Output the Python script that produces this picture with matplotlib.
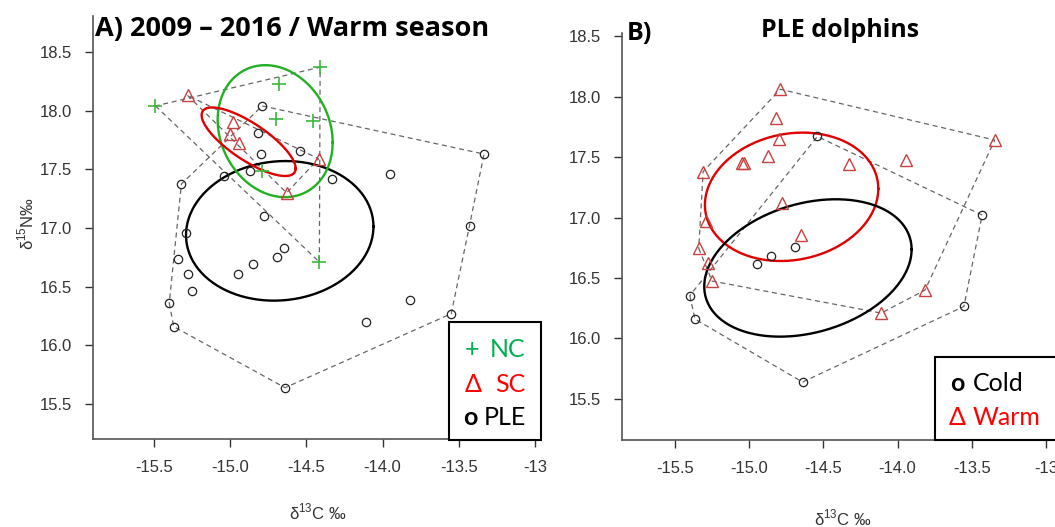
import numpy as np
import matplotlib
matplotlib.use("Agg")
import matplotlib.pyplot as plt
from matplotlib.patches import Rectangle

plt.rcParams['font.family'] = ['Liberation Sans', 'DejaVu Sans']
plt.rcParams['mathtext.fontset'] = 'custom'
plt.rcParams['mathtext.rm'] = 'Liberation Sans'

W, H = 1055, 527

# ---- Panel A: 2009-2016 / warm season ----
nc_x = [-15.49, -14.41, -14.68, -14.70, -14.46, -14.79, -14.415]
nc_y = [18.04, 18.37, 18.23, 17.93, 17.91, 17.49, 16.71]

sc_x = [-15.28, -14.98, -15.00, -14.94, -14.42, -14.63]
sc_y = [18.13, 17.905, 17.80, 17.72, 17.59, 17.30]

ple_x = [-14.79, -14.82, -14.80, -14.54, -13.335, -13.95, -14.33, -14.87, -15.04,
         -15.32, -14.78, -15.29, -13.43, -15.34, -14.645, -14.69, -14.85, -14.95,
         -15.28, -15.25, -15.40, -15.37, -14.64, -13.55, -13.82, -14.11]
ple_y = [18.04, 17.81, 17.63, 17.66, 17.63, 17.46, 17.42, 17.49, 17.44,
         17.375, 17.10, 16.96, 17.02, 16.74, 16.83, 16.75, 16.69, 16.61,
         16.61, 16.46, 16.36, 16.16, 15.64, 16.27, 16.39, 16.20]

# standard ellipses: centre (x, y) and covariance (sxx, syy, sxy)
nc_ell = [(-14.705, 17.825), (0.1423, 0.316, -0.0363)]
sc_ell = [(-14.879, 17.735), (0.0951, 0.0853, -0.0699)]
ple_ell = [(-14.675, 16.976), (0.378, 0.3535, 0.0224)]

# ---- Panel B: PLE dolphins ----
warm_x = [-14.79, -14.82, -14.80, -14.87, -15.035, -15.05, -14.325, -13.94, -13.345,
          -15.31, -14.78, -15.29, -14.65, -15.34, -15.28, -15.25, -14.11, -13.815]
warm_y = [18.06, 17.82, 17.65, 17.51, 17.45, 17.45, 17.44, 17.475, 17.64,
          17.38, 17.12, 16.97, 16.855, 16.745, 16.62, 16.475, 16.21, 16.40]

cold_x = [-14.54, -13.43, -14.69, -14.85, -14.945, -15.40, -15.365, -14.64, -13.553]
cold_y = [17.67, 17.02, 16.76, 16.68, 16.615, 16.355, 16.16, 15.64, 16.265]

warm_ell = [(-14.714, 17.171), (0.3413, 0.2815, 0.039)]
cold_ell = [(-14.604, 16.583), (0.4883, 0.3224, 0.1069)]

xticks = [-15.5, -15.0, -14.5, -14.0, -13.5, -13.0]
xticklabels = ['-15.5', '-15.0', '-14.5', '-14.0', '-13.5', '-13']
yticks = [15.5, 16.0, 16.5, 17.0, 17.5, 18.0, 18.5]
yticklabels = ['15.5', '16.0', '16.5', '17.0', '17.5', '18.0', '18.5']

GREEN_PT = '#3cb83c'
GREEN_EL = '#22b022'
RED_PT = '#c84040'
RED_EL = '#e00000'
HULL = dict(linestyle=(0, (4, 3)), linewidth=0.9, color='#666666', zorder=2)


def fx(px):
    return px / W


def fy(py):
    return 1 - py / H


def hull(xs, ys):
    pts = sorted(set(zip(xs, ys)))

    def cross(o, a, b):
        return (a[0] - o[0]) * (b[1] - o[1]) - (a[1] - o[1]) * (b[0] - o[0])
    lower, upper = [], []
    for p in pts:
        while len(lower) >= 2 and cross(lower[-2], lower[-1], p) <= 0:
            lower.pop()
        lower.append(p)
    for p in reversed(pts):
        while len(upper) >= 2 and cross(upper[-2], upper[-1], p) <= 0:
            upper.pop()
        upper.append(p)
    h = lower[:-1] + upper[:-1]
    h.append(h[0])
    return np.array(h)


def draw_hull(ax, xs, ys):
    h = hull(xs, ys)
    ax.plot(h[:, 0], h[:, 1], **HULL)


def draw_ellipse(ax, ell, color):
    (cx, cy), (sxx, syy, sxy) = ell
    L = np.linalg.cholesky(np.array([[sxx, sxy], [sxy, syy]]))
    t = np.linspace(0, 2 * np.pi, 200)
    p = L @ np.vstack([np.cos(t), np.sin(t)])
    ax.plot(cx + p[0], cy + p[1], color=color, linewidth=1.7, zorder=4)


def style_axes(ax, xlim, ylim):
    ax.set_xlim(*xlim)
    ax.set_ylim(*ylim)
    ax.set_xticks(xticks)
    ax.set_xticklabels(xticklabels)
    ax.set_yticks(yticks)
    ax.set_yticklabels(yticklabels)
    for s in ['top', 'right']:
        ax.spines[s].set_visible(False)
    for s in ['left', 'bottom']:
        ax.spines[s].set_color('#555555')
        ax.spines[s].set_linewidth(1.2)
    ax.tick_params(direction='out', length=6, width=1, color='#333333',
                   labelsize=12, labelcolor='#333333', pad=9)
    ax.patch.set_alpha(0)


fig = plt.figure(figsize=(W / 100, H / 100), dpi=100)

# Panel A
axA = fig.add_axes([fx(93), fy(439), fx(541 - 93), (439 - 16) / H])
style_axes(axA, (-15.90, -12.961), (15.203, 18.806))
draw_hull(axA, ple_x, ple_y)
draw_hull(axA, nc_x, nc_y)
draw_hull(axA, sc_x, sc_y)
draw_ellipse(axA, ple_ell, 'black')
draw_ellipse(axA, nc_ell, GREEN_EL)
draw_ellipse(axA, sc_ell, RED_EL)
axA.plot(ple_x, ple_y, 'o', mfc='none', mec='#222222', ms=6, mew=0.9, zorder=5)
axA.plot(sc_x, sc_y, '^', mfc='none', mec=RED_PT, ms=8.5, mew=1.0, zorder=5)
axA.plot(nc_x, nc_y, '+', color=GREEN_PT, ms=10, mew=1.2, zorder=5)

# Panel B
axB = fig.add_axes([fx(622), fy(440), fx(1055 - 622), (440 - 33) / H])
style_axes(axB, (-15.857, -12.939), (15.161, 18.525))
draw_hull(axB, cold_x, cold_y)
draw_hull(axB, warm_x, warm_y)
draw_ellipse(axB, warm_ell, RED_EL)
draw_ellipse(axB, cold_ell, 'black')
axB.plot(cold_x, cold_y, 'o', mfc='none', mec='#222222', ms=6, mew=0.9, zorder=5)
axB.plot(warm_x, warm_y, '^', mfc='none', mec=RED_PT, ms=8.5, mew=1.0, zorder=5)

# Axis labels
fig.text(fx(318), fy(512), 'δ$^{\\mathregular{13}}$C ‰', ha='center', va='center',
         fontsize=12, color='#333333')
fig.text(fx(843), fy(518), 'δ$^{\\mathregular{13}}$C ‰', ha='center', va='center',
         fontsize=12, color='#333333')
fig.text(fx(26), fy(223), 'δ$^{\\mathregular{15}}$N‰', ha='center', va='center',
         rotation=90, fontsize=12, color='#333333')

# Titles
title_font = dict(family='Open Sans', weight='bold', color='black')
fig.text(fx(95), fy(36), 'A) 2009 – 2016 / Warm season', ha='left', va='baseline',
         size=19.5, **title_font)
fig.text(fx(627), fy(40), 'B)', ha='left', va='baseline', size=18, **title_font)
fig.text(fx(840), fy(37), 'PLE dolphins', ha='center', va='baseline', size=18, **title_font)

# Legend boxes
for (x0, y0, x1, y1) in [(449, 322, 541, 440), (935, 357, 1062, 440)]:
    fig.add_artist(Rectangle((fx(x0), fy(y1)), fx(x1 - x0), (y1 - y0) / H,
                             transform=fig.transFigure, facecolor='white',
                             edgecolor='black', linewidth=1.5, zorder=10))

leg_font = dict(family='Lato', size=18, zorder=11, va='baseline')
fig.text(fx(472), fy(357), '+', color='#00b050', ha='center', **leg_font)
fig.text(fx(525), fy(357), 'NC', color='#00b050', ha='right', **leg_font)
fig.text(fx(473), fy(392), 'Δ', color='#ff0000', ha='center', **leg_font)
fig.text(fx(525), fy(392), 'SC', color='#ff0000', ha='right', **leg_font)
fig.text(fx(470), fy(425), 'o', color='black', ha='center', weight='bold', **leg_font)
fig.text(fx(526), fy(425), 'PLE', color='black', ha='right', **leg_font)

fig.text(fx(957), fy(391), 'o', color='black', ha='center', weight='bold', **leg_font)
fig.text(fx(973), fy(391), 'Cold', color='black', ha='left', **leg_font)
fig.text(fx(957), fy(425), 'Δ', color='#ff0000', ha='center', **leg_font)
fig.text(fx(973), fy(425), 'Warm', color='#ff0000', ha='left', **leg_font)

fig.savefig('out.png', dpi=100)
